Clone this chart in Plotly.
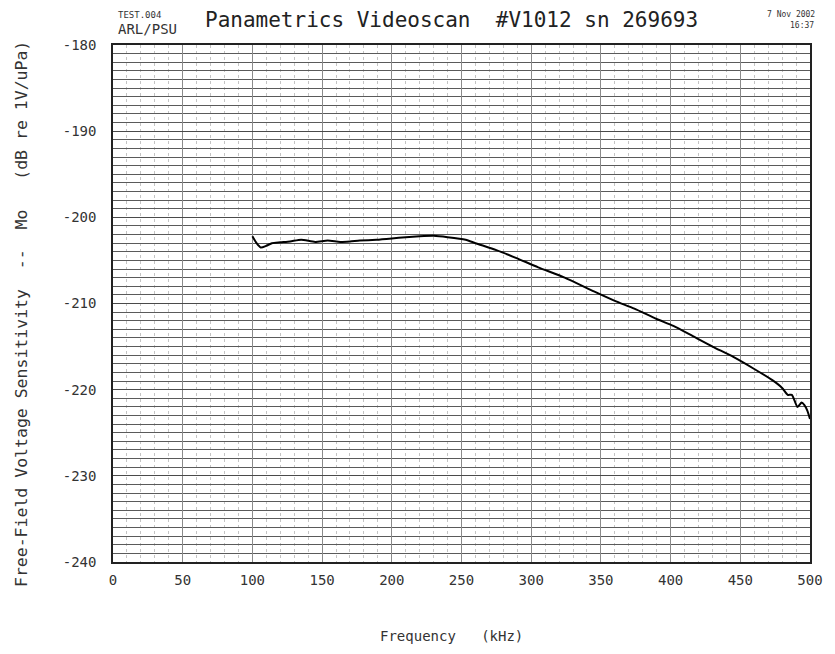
import plotly.graph_objects as go

# Frequency (kHz) and free-field voltage sensitivity (dB re 1V/uPa)
freq_khz = [100, 103, 106, 110, 114, 120, 127, 135, 145, 154, 163, 170, 177, 189,
            200, 210, 220, 230, 240, 253, 260, 275, 289, 305, 324, 345, 360, 374,
            390, 402, 416, 430, 445, 460, 473, 480, 484, 487, 491, 494, 496, 498, 500]
sens_db = [-202.2, -203.0, -203.5, -203.3, -203.0, -202.9, -202.8, -202.6, -202.85,
           -202.7, -202.85, -202.8, -202.7, -202.6, -202.45, -202.3, -202.2, -202.15,
           -202.3, -202.6, -203.0, -203.8, -204.7, -205.8, -207.0, -208.6, -209.7,
           -210.6, -211.8, -212.6, -213.8, -215.0, -216.2, -217.6, -218.9, -219.8,
           -220.6, -220.6, -222.0, -221.5, -221.8, -222.4, -223.4]

x_ticks = [0, 50, 100, 150, 200, 250, 300, 350, 400, 450, 500]
y_ticks = [-240, -230, -220, -210, -200, -190, -180]

FONT = "DejaVu Sans Mono"
OFF = 8  # page body margin offset

fig = go.Figure()
fig.add_trace(go.Scatter(
    x=freq_khz, y=sens_db, mode="lines",
    line=dict(color="black", width=2, shape="spline", smoothing=0.6),
    showlegend=False,
))

W, H = 835 - OFF, 654 - OFF
L, R, T, B = 113 - OFF, 818 - OFF, 45 - OFF, 562 - OFF

fig.update_layout(
    width=W, height=H,
    paper_bgcolor="white", plot_bgcolor="white",
    margin=dict(l=L, r=W - R, t=T, b=H - B, pad=0),
    font=dict(family=FONT, color="#333"),
    xaxis=dict(
        range=[0, 500], tickvals=x_ticks, ticktext=[str(v) for v in x_ticks],
        showgrid=True, gridcolor="#8a8a8a", gridwidth=1,
        minor=dict(dtick=10, showgrid=True, gridcolor="#c4c4c4", griddash="dot", gridwidth=1),
        showline=True, linecolor="#222", linewidth=1.5, mirror=True,
        zeroline=False, ticks="", ticklabelstandoff=4,
        tickfont=dict(family=FONT, size=14, color="#333"),
    ),
    yaxis=dict(
        range=[-240, -180], tickvals=y_ticks, ticktext=[str(v) for v in y_ticks],
        showgrid=True, gridcolor="#4a4a4a", gridwidth=1.3,
        minor=dict(dtick=1, showgrid=True, gridcolor="#5a5a5a", gridwidth=1.2),
        showline=True, linecolor="#222", linewidth=1.5, mirror=True,
        zeroline=False, ticks="", ticklabelstandoff=12,
        tickfont=dict(family=FONT, size=14, color="#333"),
    ),
)

def px2paper(px, py):
    return (px - 113) / 705.0, (562 - py) / 517.0

ann = []
x, y = px2paper(455, 20)
ann.append(dict(text="Panametrics Videoscan  #V1012 sn 269693", x=x, y=y,
                font=dict(family=FONT, size=21, color="#222")))
x, y = px2paper(116, 15)
ann.append(dict(text="TEST.004", x=x, y=y, xanchor="left",
                font=dict(family=FONT, size=9, color="#333")))
x, y = px2paper(116, 29)
ann.append(dict(text="ARL/PSU", x=x, y=y, xanchor="left",
                font=dict(family=FONT, size=14, color="#333")))
x, y = px2paper(825, 14)
ann.append(dict(text="7 Nov 2002", x=x, y=y, xanchor="right",
                font=dict(family=FONT, size=8, color="#333")))
x, y = px2paper(824, 25)
ann.append(dict(text="16:37", x=x, y=y, xanchor="right",
                font=dict(family=FONT, size=8, color="#333")))
x, y = px2paper(455, 636)
ann.append(dict(text="Frequency   (kHz)", x=x, y=y,
                font=dict(family=FONT, size=14, color="#333")))
x, y = px2paper(20, 314)
ann.append(dict(text="Free-Field Voltage Sensitivity  --  Mo   (dB re 1V/uPa)",
                x=x, y=y, textangle=-90,
                font=dict(family=FONT, size=16.5, color="#333")))

for a in ann:
    a.update(xref="paper", yref="paper", showarrow=False,
             yanchor="middle", xanchor=a.get("xanchor", "center"))
fig.update_layout(annotations=ann)

fig.write_html("out.html")
